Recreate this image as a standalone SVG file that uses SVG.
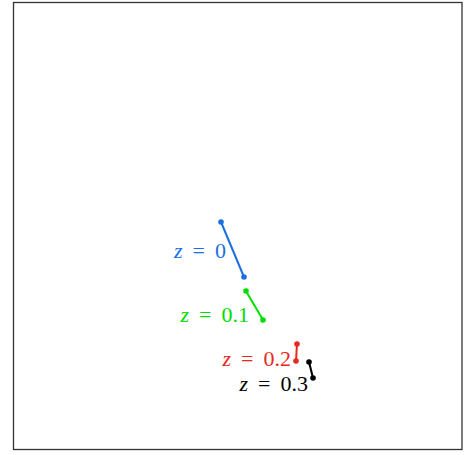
<svg xmlns="http://www.w3.org/2000/svg" width="466" height="455" viewBox="0 0 466 455">
<style>
.lbl{font-family:"Liberation Serif","DejaVu Serif",serif;font-size:22px;text-anchor:end}
.z{font-style:italic}
.seg{stroke-width:2;fill:none}
</style>
<rect x="13.5" y="2.5" width="448.5" height="447" fill="#fff" stroke="#333" stroke-width="1.3"/>
<g id="connectors">
<line class="seg" x1="221" y1="222" x2="244" y2="277" stroke="#1a6fe3"/>
<line class="seg" x1="246" y1="291" x2="263" y2="320" stroke="#00dd00"/>
<line class="seg" x1="297" y1="344" x2="296" y2="361" stroke="#e8281c"/>
<line class="seg" x1="309" y1="362" x2="313" y2="378" stroke="#000"/>
</g>
<g id="z0" fill="#1a6fe3">
<circle cx="221" cy="222" r="2.8"/><circle cx="244" cy="277" r="2.8"/>
<text class="lbl" x="226" y="258"><tspan class="z">z</tspan><tspan dx="10">=</tspan><tspan dx="10">0</tspan></text>
</g>
<g id="z01" fill="#00dd00">
<circle cx="246" cy="291" r="2.8"/><circle cx="263" cy="320" r="2.8"/>
<text class="lbl" x="249" y="322"><tspan class="z">z</tspan><tspan dx="10">=</tspan><tspan dx="10">0.1</tspan></text>
</g>
<g id="z02" fill="#e8281c">
<circle cx="297" cy="344" r="2.8"/><circle cx="296" cy="361" r="2.8"/>
<text class="lbl" x="291" y="366"><tspan class="z">z</tspan><tspan dx="10">=</tspan><tspan dx="10">0.2</tspan></text>
</g>
<g id="z03" fill="#000">
<circle cx="309" cy="362" r="2.8"/><circle cx="313" cy="378" r="2.8"/>
<text class="lbl" x="308" y="391"><tspan class="z">z</tspan><tspan dx="10">=</tspan><tspan dx="10">0.3</tspan></text>
</g>
</svg>
